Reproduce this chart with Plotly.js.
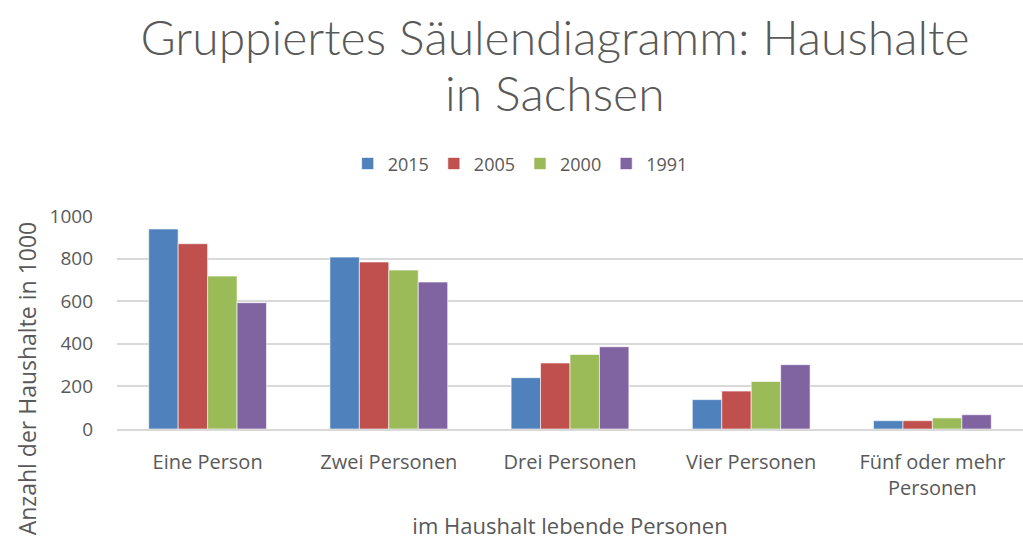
<!DOCTYPE html>
<html><head><meta charset="utf-8">
<script src="https://cdn.plot.ly/plotly-3.0.1.min.js"></script>
<style>html,body{margin:0;padding:0;background:#fff}#c{width:1023px;height:540px}</style>
</head><body><div id="c"></div>
<script>
const categories = ["Eine Person", "Zwei Personen", "Drei Personen", "Vier Personen", "Fünf oder mehr<br>Personen"];
const seriesNames = ["2015", "2005", "2000", "1991"];
const v2015 = [939, 807, 241, 138, 39];
const v2005 = [870, 784, 310, 178, 39];
const v2000 = [718, 746, 350, 223, 52];
const v1991 = [593, 690, 386, 302, 67];
const colors = ["#4F81BD", "#C0504D", "#9BBB59", "#8064A2"];
const allValues = [v2015, v2005, v2000, v1991];

const traces = allValues.map((vals, i) => ({
  type: "bar", name: seriesNames[i], x: categories, y: vals,
  marker: {color: colors[i], line: {color: "rgba(255,255,255,0.6)", width: 1}},
  hoverinfo: "x+y+name"
}));
const grey = "#595959";
const layout = {
  width: 1023, height: 540,
  paper_bgcolor: "#fff", plot_bgcolor: "#fff",
  font: {family: "'Open Sans', sans-serif", color: grey, size: 19},
  title: {text: "Gruppiertes Säulendiagramm: Haushalte", x: 0.5425, xanchor: "center", y: 0.93, yanchor: "middle",
    font: {family: "Lato, sans-serif", size: 48, color: grey, weight: 300}},
  margin: {l: 117, r: 0, t: 216, b: 111},
  barmode: "group", bargap: 0.35, bargroupgap: 0,
  showlegend: true,
  legend: {orientation: "h", x: 0.445, xanchor: "center", y: 1.245, yanchor: "middle", font: {size: 18, color: grey}, traceorder: "normal"},
  xaxis: {title: {text: "im Haushalt lebende Personen", font: {size: 22, color: grey}, standoff: 20},
    tickfont: {size: 20, color: grey}, showline: true, linecolor: "#d9d9d9", linewidth: 2, ticks: "", showgrid: false,
    ticklabelstandoff: 14},
  yaxis: {range: [0, 1000], dtick: 200, tickfont: {size: 19, color: grey}, gridcolor: "#d9d9d9", gridwidth: 1.5,
    zeroline: false, showline: false, ticklabelstandoff: 23},
  annotations: [
    {text: "in Sachsen", xref: "paper", yref: "paper", x: 0.4834, y: 1.581,
      xanchor: "center", yanchor: "middle", showarrow: false, font: {family: "Lato, sans-serif", size: 48, color: grey, weight: 300}},
    {text: "Anzahl der Haushalte in 1000", xref: "paper", yref: "paper", x: -0.1, y: 0.24,
    xanchor: "center", yanchor: "middle", textangle: -90, showarrow: false, font: {size: 23, color: grey}}]
};
Plotly.newPlot("c", traces, layout, {displayModeBar: false});
</script></body></html>
